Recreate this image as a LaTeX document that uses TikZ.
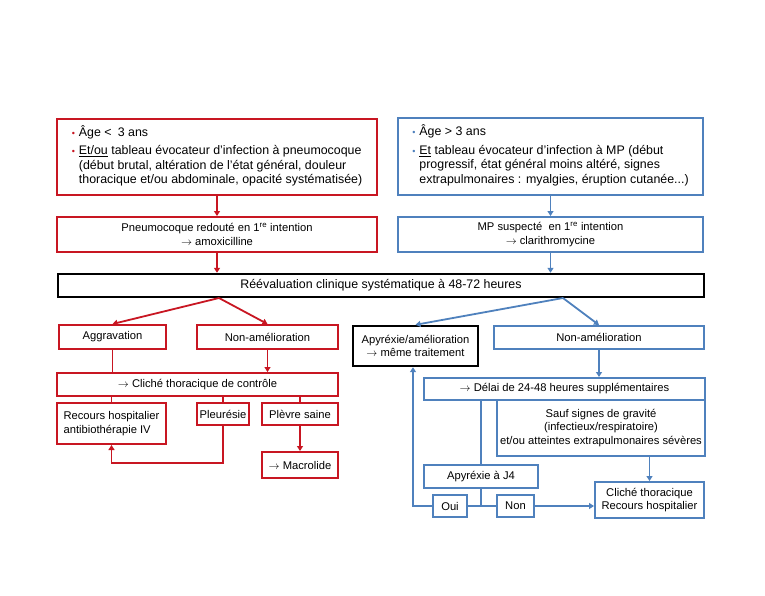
\documentclass[tikz,border=0pt]{standalone}
\usepackage{fontspec}
\setmainfont{Liberation Sans}
\usetikzlibrary{arrows.meta}
\definecolor{redc}{RGB}{200,22,34}
\definecolor{bluec}{RGB}{79,129,189}
\newcommand\rbul{\textcolor{redc}{\small\textbullet}}
\newcommand\bbul{\textcolor{bluec}{\small\textbullet}}
\begin{document}
\begin{tikzpicture}[x=1pt,y=-1pt,
 box/.style={draw, line width=2pt, inner sep=0pt, align=center, font=\fontsize{11.2}{13.5}\selectfont},
 rbox/.style={box, draw=redc},
 bbox/.style={box, draw=bluec},
 kbox/.style={box, draw=black, line width=2.4pt},
 conn/.style={line width=1.8pt},
 arr/.style={conn, -{Triangle[width=6pt,length=5pt]}},
 big/.style={font=\fontsize{12.4}{14.5}\selectfont},
]
\useasboundingbox (0,0) rectangle (765,595);

% top left
\node[rbox, big, minimum width=320pt, minimum height=76pt] (L1) at (217,157) {%
\begin{tabular}{@{}l@{\hspace{4pt}}l@{}}
\rbul & Âge <\enspace 3 ans\\[4pt]
\rbul & \underline{Et/ou} tableau évocateur d’infection à pneumocoque\\
 & (début brutal, altération de l’état général, douleur\\
 & thoracique et/ou abdominale, opacité systématisée)
\end{tabular}};
\node[rbox, minimum width=320pt, minimum height=35pt] (L2) at (217,234.5) {Pneumocoque redouté en 1\textsuperscript{re} intention\\$\rightarrow$ amoxicilline};

% top right
\node[bbox, big, minimum width=305pt, minimum height=77pt] (R1) at (550.5,156.5) {%
\begin{tabular}{@{}l@{\hspace{4pt}}l@{}}
\bbul & Âge > 3 ans\\[4pt]
\bbul & \underline{Et} tableau évocateur d’infection à MP (début\\
 & progressif, état général moins altéré, signes\\
 & extrapulmonaires : myalgies, éruption cutanée...)
\end{tabular}};
\node[bbox, minimum width=305pt, minimum height=35pt] (R2) at (550.5,234.5) {MP suspecté\ \ en 1\textsuperscript{re} intention\\$\rightarrow$ clarithromycine};

% reevaluation
\node[kbox, big, minimum width=646pt, minimum height=23pt] (REEV) at (381,285.5) {Réévaluation clinique systématique à 48-72 heures};
\coordinate (rl) at (219,298);
\coordinate (rr) at (563,298);

% left branch
\node[rbox, minimum width=107pt, minimum height=24pt] (AGG) at (112.5,337) {Aggravation};
\node[rbox, minimum width=141pt, minimum height=24pt] (NAL) at (267.5,337) {Non-amélioration};
\node[rbox, minimum width=281pt, minimum height=23pt] (CLI) at (197.5,384.5) {$\rightarrow$ Cliché thoracique de contrôle};
\node[rbox, minimum width=109pt, minimum height=41pt, align=left] (REC) at (111.5,423.5) {Recours hospitalier\\antibiothérapie IV};
\node[rbox, minimum width=52pt, minimum height=22pt] (PLE) at (223,414) {Pleurésie};
\node[rbox, minimum width=76pt, minimum height=22pt] (PLS) at (300,414) {Plèvre saine};
\node[rbox, minimum width=76pt, minimum height=26pt] (MAC) at (300,465) {$\rightarrow$ Macrolide};

% right branch
\node[kbox, minimum width=125pt, minimum height=40pt] (APY) at (415.5,346) {Apyréxie/amélioration\\$\rightarrow$ même traitement};
\node[bbox, minimum width=210pt, minimum height=23pt] (NAR) at (599,337.5) {Non-amélioration};
\node[bbox, minimum width=281pt, minimum height=22pt] (DEL) at (564.5,389) {$\rightarrow$ Délai de 24-48 heures supplémentaires};
\node[bbox, minimum width=208pt, minimum height=56pt] (SAUF) at (601,428) {Sauf signes de gravité\\(infectieux/respiratoire)\\et/ou atteintes extrapulmonaires sévères};
\node[bbox, minimum width=114pt, minimum height=23pt] (J4) at (481,476.5) {Apyréxie à J4};
\node[bbox, minimum width=34pt, minimum height=22pt] (OUI) at (450,506) {Oui};
\node[bbox, minimum width=37pt, minimum height=22pt] (NON) at (515.5,506) {Non};
\node[bbox, minimum width=109pt, minimum height=36pt] (CT) at (649.5,500) {Cliché thoracique\\Recours hospitalier};
\coordinate (loop) at (413,506);

% red connectors
\begin{scope}[redc]
\draw[arr] (L1.south) -- (L2.north);
\draw[arr] (L2.south) -- (L2.south |- REEV.north);
\draw[arr] (rl) -- (AGG.north);
\draw[arr] (rl) -- (NAL.north);
\draw[conn] (AGG.south) -- (AGG.south |- CLI.north);
\draw[arr] (NAL.south) -- (NAL.south |- CLI.north);
\draw[conn] (CLI.south -| REC.north) -- (REC.north);
\draw[conn] (CLI.south -| PLE.north) -- (PLE.north);
\draw[conn] (CLI.south -| PLS.north) -- (PLS.north);
\draw[arr] (PLS.south) -- (MAC.north);
\draw[arr] (PLE.south) -- ++(0,37) -| (REC.south);
\end{scope}

% blue connectors
\begin{scope}[bluec]
\draw[arr] (R1.south) -- (R2.north);
\draw[arr] (R2.south) -- (R2.south |- REEV.north);
\draw[arr] (rr) -- (APY.north);
\draw[arr] (rr) -- (NAR.north);
\draw[arr] (NAR.south) -- (NAR.south |- DEL.north);
\draw[conn] (DEL.south -| J4.north) -- (J4.north);
\draw[arr] (SAUF.south -| CT.north) -- (CT.north);
\draw[conn] (J4.south) -- (J4.south |- OUI.east);
\draw[conn] (OUI.east) -- (NON.west);
\draw[arr] (NON.east) -- (NON.east -| CT.west);
\draw[arr] (OUI.west) -- (loop) -- (loop |- APY.south);
\end{scope}
\end{tikzpicture}
\end{document}
